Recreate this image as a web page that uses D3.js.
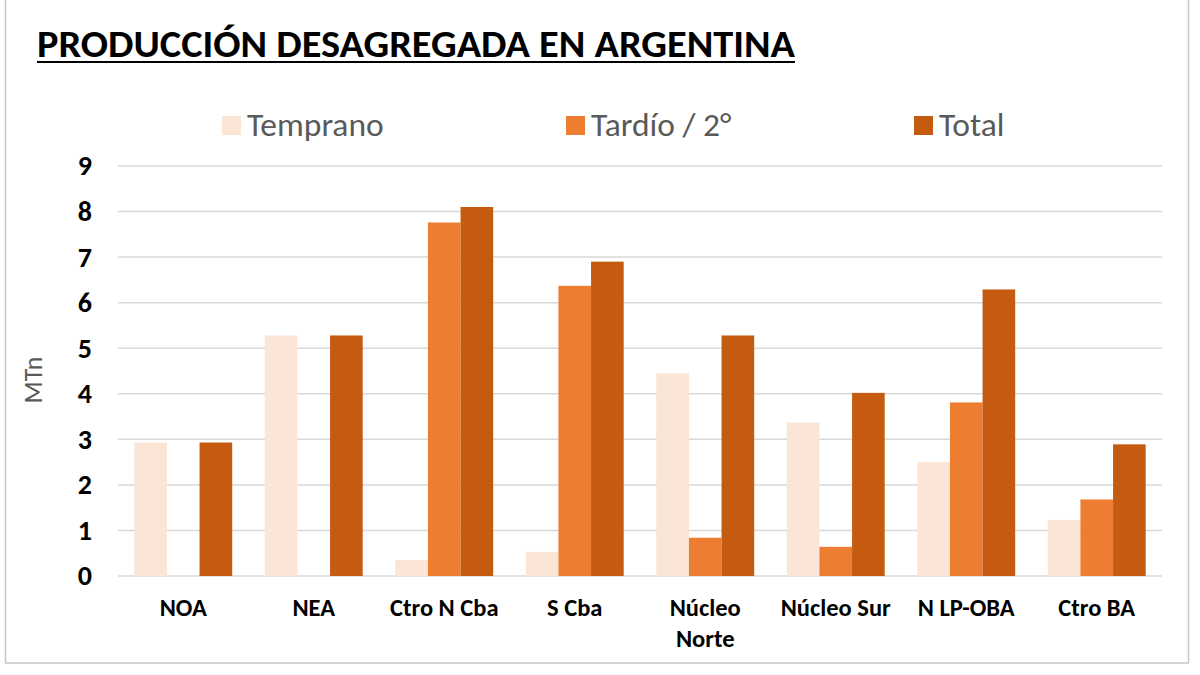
<!DOCTYPE html>
<html>
<head>
<meta charset="utf-8">
<script src="https://cdn.jsdelivr.net/npm/d3@7"></script>
<style>
  body { margin: 0; background: #fff; }
  text { font-family: Carlito, "Liberation Sans Narrow", "Open Sans", sans-serif; }
</style>
</head>
<body>
<div id="chart-area"></div>
<script>
// Data
const categories = ["NOA", "NEA", "Ctro N Cba", "S Cba", "Núcleo Norte", "Núcleo Sur", "N LP-OBA", "Ctro BA"]
const seriesNames = ["Temprano", "Tardío / 2°", "Total"]
const temprano = [2.93, 5.28, 0.35, 0.53, 4.45, 3.37, 2.50, 1.23]
const tardio = [0, 0, 7.76, 6.37, 0.84, 0.64, 3.81, 1.68]
const total = [2.93, 5.28, 8.10, 6.90, 5.28, 4.02, 6.29, 2.89]
const yTicks = [0, 1, 2, 3, 4, 5, 6, 7, 8, 9]
const colors = ["#FBE5D6", "#ED7D31", "#C55A11"]

const W = 1200, H = 675
const MARGIN = { LEFT: 118, RIGHT: 38, TOP: 166, BOTTOM: 99 }
const WIDTH = W - MARGIN.LEFT - MARGIN.RIGHT
const HEIGHT = H - MARGIN.TOP - MARGIN.BOTTOM

const svg = d3.select("#chart-area").append("svg")
  .attr("width", W)
  .attr("height", H)

// frame
svg.append("rect")
  .attr("x", 5.5).attr("y", -2)
  .attr("width", 1183).attr("height", 665)
  .attr("fill", "none")
  .attr("stroke", "#c8c8c8")
  .attr("stroke-width", 1.5)

// title
svg.append("text")
  .attr("x", 37).attr("y", 57)
  .attr("font-size", 38)
  .attr("font-weight", "bold")
  .attr("fill", "#000")
  .attr("textLength", 758)
  .attr("lengthAdjust", "spacingAndGlyphs")
  .text("PRODUCCIÓN DESAGREGADA EN ARGENTINA")
svg.append("line")
  .attr("x1", 37).attr("x2", 795)
  .attr("y1", 62).attr("y2", 62)
  .attr("stroke", "#000").attr("stroke-width", 2)

const g = svg.append("g")
  .attr("transform", `translate(${MARGIN.LEFT}, ${MARGIN.TOP})`)

// scales
const x0 = d3.scaleBand()
  .domain(categories)
  .range([0, WIDTH])
  .paddingInner(0.25)
  .paddingOuter(0.125)

const x1 = d3.scaleBand()
  .domain(seriesNames)
  .range([0, x0.bandwidth()])

const y = d3.scaleLinear()
  .domain([0, 9])
  .range([HEIGHT, 0])

// gridlines
g.append("g")
  .attr("class", "grid")
  .selectAll("line")
  .data(yTicks)
  .enter().append("line")
    .attr("x1", 0).attr("x2", WIDTH)
    .attr("y1", d => y(d)).attr("y2", d => y(d))
    .attr("stroke", "#d9d9d9")
    .attr("stroke-width", 1.5)

// y axis
const leftAxis = d3.axisLeft(y).tickValues(yTicks).tickSize(0).tickPadding(26)
g.append("g")
  .attr("class", "left axis")
  .call(leftAxis)
  .call(a => a.select(".domain").remove())
  .selectAll("text")
    .attr("font-size", 28)
    .attr("font-weight", "bold")
    .attr("fill", "#000")
    .attr("font-family", "Carlito, 'Open Sans', sans-serif")

// y label
svg.append("text")
  .attr("transform", "rotate(-90)")
  .attr("x", -380).attr("y", 42)
  .attr("text-anchor", "middle")
  .attr("font-size", 26)
  .attr("fill", "#595959")
  .text("MTn")

// bars
const seriesData = [temprano, tardio, total]
const groups = g.selectAll("g.cat")
  .data(categories)
  .enter().append("g")
    .attr("class", "cat")
    .attr("transform", d => `translate(${x0(d)}, 0)`)

groups.selectAll("rect")
  .data((c, i) => seriesNames.map((s, j) => ({ s: s, v: seriesData[j][i], j: j })))
  .enter().append("rect")
    .attr("x", d => x1(d.s))
    .attr("y", d => y(d.v))
    .attr("width", x1.bandwidth())
    .attr("height", d => HEIGHT - y(d.v))
    .attr("fill", d => colors[d.j])

// x labels
const xLabels = g.append("g").attr("class", "bottom axis")
categories.forEach(c => {
  const cx = x0(c) + x0.bandwidth() / 2
  const t = xLabels.append("text")
    .attr("x", cx).attr("y", HEIGHT + 40)
    .attr("text-anchor", "middle")
    .attr("font-size", 24.5)
    .attr("font-weight", "bold")
    .attr("fill", "#000")
  const words = c === "Núcleo Norte" ? ["Núcleo", "Norte"] : [c]
  words.forEach((w, i) => {
    t.append("tspan").attr("x", cx).attr("dy", i === 0 ? 0 : 31).text(w)
  })
})

// legend
const legendX = [222, 566, 914]
const legend = svg.append("g").attr("class", "legend")
seriesNames.forEach((s, i) => {
  legend.append("rect")
    .attr("x", legendX[i]).attr("y", 116)
    .attr("width", 19).attr("height", 19)
    .attr("fill", colors[i])
  legend.append("text")
    .attr("x", legendX[i] + 25).attr("y", 136)
    .attr("font-size", 33.5)
    .attr("fill", "#595959")
    .text(s)
})
</script>
</body>
</html>
